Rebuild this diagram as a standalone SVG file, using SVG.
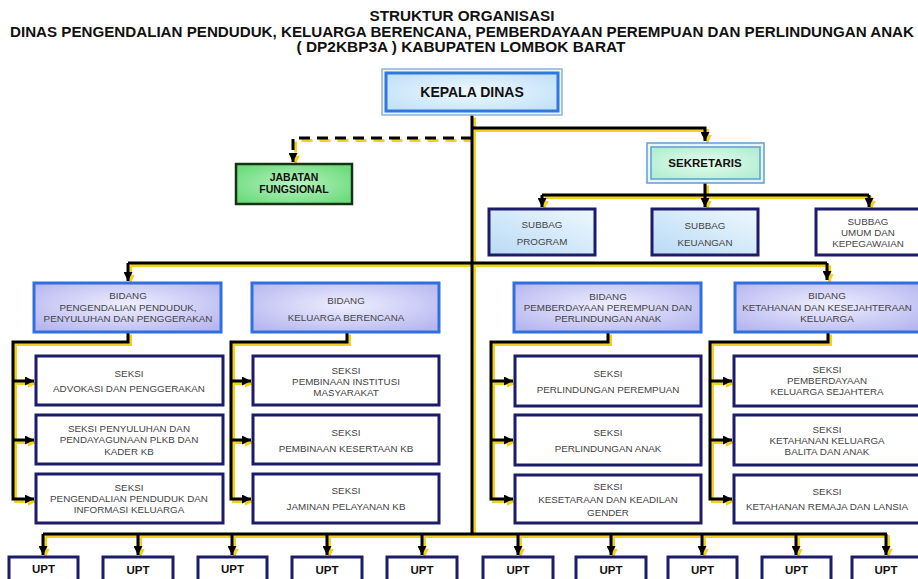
<svg xmlns="http://www.w3.org/2000/svg" width="918" height="579" viewBox="0 0 918 579">
<style>
text{font-family:"Liberation Sans",Arial,sans-serif;text-anchor:middle}
.ttl{font-size:14.5px;font-weight:bold;fill:#111}
.t{font-size:9.8px;fill:#444}
.tb{font-weight:bold;fill:#111}
.sh{fill:none;stroke:#f2d21b;stroke-width:3}
.ln{fill:none;stroke:#000;stroke-width:3}
.sh.a{marker-end:url(#ay)}
.ln.a{marker-end:url(#ab)}
.dash{stroke-dasharray:11 7}
.seksi{fill:#fff;stroke:#1c1c6a;stroke-width:3}
.upt{fill:#fff;stroke:#1c1c6a;stroke-width:3}
.bidang{fill:url(#gBid);stroke:#2f6fe0;stroke-width:3}
.subbag{fill:url(#gSub);stroke:#1c1c6a;stroke-width:3}
</style>
<defs>
<marker id="ab" markerUnits="userSpaceOnUse" markerWidth="9" markerHeight="9" refX="9" refY="4.5" orient="auto"><path d="M0,0 L9,4.5 L0,9 z" fill="#000"/></marker>
<marker id="ay" markerUnits="userSpaceOnUse" markerWidth="9" markerHeight="9" refX="9" refY="4.5" orient="auto"><path d="M0,0 L9,4.5 L0,9 z" fill="#f2d21b"/></marker>
<radialGradient id="gBid" cx="50%" cy="45%" r="65%"><stop offset="0" stop-color="#eeeeff"/><stop offset="1" stop-color="#b7b7f0"/></radialGradient>
<linearGradient id="gSub" x1="0" y1="1" x2="1" y2="0"><stop offset="0" stop-color="#b9daf4"/><stop offset="1" stop-color="#eef8fe"/></linearGradient>
<radialGradient id="gKep" cx="50%" cy="50%" r="60%"><stop offset="0" stop-color="#eef8ff"/><stop offset="1" stop-color="#c4e2f8"/></radialGradient>
<radialGradient id="gJab" cx="50%" cy="50%" r="60%"><stop offset="0" stop-color="#b8f3bf"/><stop offset="1" stop-color="#6edb7e"/></radialGradient>
<radialGradient id="gSek" cx="50%" cy="50%" r="60%"><stop offset="0" stop-color="#e6fcee"/><stop offset="1" stop-color="#b4eed2"/></radialGradient>
</defs>
<rect width="918" height="579" fill="#fff"/>

<g id="title">
<text class="ttl" x="462" y="21" textLength="185" lengthAdjust="spacingAndGlyphs">STRUKTUR ORGANISASI</text>
<text class="ttl" x="462" y="37" textLength="904" lengthAdjust="spacingAndGlyphs">DINAS PENGENDALIAN PENDUDUK, KELUARGA BERENCANA, PEMBERDAYAAN PEREMPUAN DAN PERLINDUNGAN ANAK</text>
<text class="ttl" x="461" y="52" textLength="329" lengthAdjust="spacingAndGlyphs">( DP2KBP3A ) KABUPATEN LOMBOK BARAT</text>
</g>

<g id="connectors">
<g transform="translate(2.5,2.5)">
<path class="sh" d="M472,115 V534"/>
<path class="sh a" d="M472,128 H705 V141"/>
<path class="sh a dash" d="M472,138 H293 V162"/>
<path class="sh" d="M705,183 V195 M542,195 H869"/>
<path class="sh a" d="M542,195 V207"/><path class="sh a" d="M705,195 V207"/><path class="sh a" d="M869,195 V207"/>
<path class="sh" d="M128,263 H827"/>
<path class="sh a" d="M128,263 V281"/><path class="sh a" d="M827,263 V280"/>
<path class="sh a" d="M128,332 V342 H13 V499 H34"/><path class="sh a" d="M13,381 H34"/><path class="sh a" d="M13,440 H34"/>
<path class="sh a" d="M347,332 V342 H231 V499 H251"/><path class="sh a" d="M231,381 H251"/><path class="sh a" d="M231,440 H251"/>
<path class="sh a" d="M608,332 V342 H491 V499 H513"/><path class="sh a" d="M491,381 H513"/><path class="sh a" d="M491,440 H513"/>
<path class="sh a" d="M828,332 V342 H710 V499 H732"/><path class="sh a" d="M710,381 H732"/><path class="sh a" d="M710,440 H732"/>
<path class="sh" d="M43,534 H887"/>
<path class="sh a" d="M43,534 V555"/><path class="sh a" d="M138,534 V555"/><path class="sh a" d="M232,534 V555"/><path class="sh a" d="M327,534 V555"/><path class="sh a" d="M422,534 V555"/>
<path class="sh a" d="M518,534 V555"/><path class="sh a" d="M611,534 V555"/><path class="sh a" d="M702,534 V555"/><path class="sh a" d="M796,534 V555"/><path class="sh a" d="M886,534 V555"/>
</g>
<g>
<path class="ln" d="M472,115 V534"/>
<path class="ln a" d="M472,128 H705 V141"/>
<path class="ln a dash" d="M472,138 H293 V162"/>
<path class="ln" d="M705,183 V195 M542,195 H869"/>
<path class="ln a" d="M542,195 V207"/><path class="ln a" d="M705,195 V207"/><path class="ln a" d="M869,195 V207"/>
<path class="ln" d="M128,263 H827"/>
<path class="ln a" d="M128,263 V281"/><path class="ln a" d="M827,263 V280"/>
<path class="ln a" d="M128,332 V342 H13 V499 H34"/><path class="ln a" d="M13,381 H34"/><path class="ln a" d="M13,440 H34"/>
<path class="ln a" d="M347,332 V342 H231 V499 H251"/><path class="ln a" d="M231,381 H251"/><path class="ln a" d="M231,440 H251"/>
<path class="ln a" d="M608,332 V342 H491 V499 H513"/><path class="ln a" d="M491,381 H513"/><path class="ln a" d="M491,440 H513"/>
<path class="ln a" d="M828,332 V342 H710 V499 H732"/><path class="ln a" d="M710,381 H732"/><path class="ln a" d="M710,440 H732"/>
<path class="ln" d="M43,534 H887"/>
<path class="ln a" d="M43,534 V555"/><path class="ln a" d="M138,534 V555"/><path class="ln a" d="M232,534 V555"/><path class="ln a" d="M327,534 V555"/><path class="ln a" d="M422,534 V555"/>
<path class="ln a" d="M518,534 V555"/><path class="ln a" d="M611,534 V555"/><path class="ln a" d="M702,534 V555"/><path class="ln a" d="M796,534 V555"/><path class="ln a" d="M886,534 V555"/>
</g>
</g>

<g id="kepala-dinas">
<rect x="382" y="69" width="180" height="46" fill="#eaf4fb" stroke="#8fb3d9" stroke-width="1.5"/>
<rect x="386" y="73" width="172" height="38" fill="url(#gKep)" stroke="#2f78dc" stroke-width="3"/>
<text class="tb" x="472" y="97" font-size="14">KEPALA DINAS</text>
</g>

<g id="jabatan-fungsional">
<rect x="236" y="164" width="116" height="40" fill="url(#gJab)" stroke="#143414" stroke-width="2.5"/>
<text class="tb" x="294" y="181" font-size="10.5">JABATAN</text>
<text class="tb" x="294" y="193" font-size="10.5">FUNGSIONAL</text>
</g>

<g id="sekretaris">
<rect x="647" y="143" width="117" height="40" fill="#e6f6f6" stroke="#5f9fd2" stroke-width="1.5"/>
<rect x="651" y="147" width="109" height="32" fill="url(#gSek)" stroke="#5f9fd2" stroke-width="1.5"/>
<text class="tb" x="705" y="167" font-size="11.5">SEKRETARIS</text>
</g>

<g id="subbag-program">
<rect class="subbag" x="489" y="209" width="106" height="46"/>
<text class="t" x="542" y="228">SUBBAG</text>
<text class="t" x="542" y="245">PROGRAM</text>
</g>
<g id="subbag-keuangan">
<rect class="subbag" x="652" y="209" width="106" height="46"/>
<text class="t" x="705" y="229">SUBBAG</text>
<text class="t" x="705" y="246">KEUANGAN</text>
</g>
<g id="subbag-umum">
<rect class="seksi" x="816" y="209" width="106" height="46"/>
<text class="t" x="868" y="225">SUBBAG</text>
<text class="t" x="868" y="236">UMUM DAN</text>
<text class="t" x="868" y="247">KEPEGAWAIAN</text>
</g>

<g id="bidang-1">
<rect class="bidang" x="34" y="283" width="187" height="49"/>
<text class="t" x="128" y="299">BIDANG</text>
<text class="t" x="128" y="311">PENGENDALIAN PENDUDUK,</text>
<text class="t" x="128" y="322">PENYULUHAN DAN PENGGERAKAN</text>
</g>
<g id="bidang-2">
<rect class="bidang" x="252" y="283" width="187" height="49"/>
<text class="t" x="346" y="304">BIDANG</text>
<text class="t" x="346" y="321">KELUARGA BERENCANA</text>
</g>
<g id="bidang-3">
<rect class="bidang" x="514" y="283" width="187" height="49"/>
<text class="t" x="608" y="300">BIDANG</text>
<text class="t" x="608" y="311">PEMBERDAYAAN PEREMPUAN DAN</text>
<text class="t" x="608" y="322">PERLINDUNGAN ANAK</text>
</g>
<g id="bidang-4">
<rect class="bidang" x="735" y="283" width="186" height="49"/>
<text class="t" x="827" y="299">BIDANG</text>
<text class="t" x="827" y="311">KETAHANAN DAN KESEJAHTERAAN</text>
<text class="t" x="827" y="322">KELUARGA</text>
</g>

<g id="seksi-1-1"><rect class="seksi" x="36" y="356" width="187" height="49"/>
<text class="t" x="129" y="377">SEKSI</text><text class="t" x="129" y="392">ADVOKASI DAN PENGGERAKAN</text></g>
<g id="seksi-1-2"><rect class="seksi" x="36" y="415" width="187" height="49"/>
<text class="t" x="129" y="432">SEKSI PENYULUHAN DAN</text><text class="t" x="129" y="443">PENDAYAGUNAAN PLKB DAN</text><text class="t" x="129" y="455">KADER KB</text></g>
<g id="seksi-1-3"><rect class="seksi" x="36" y="474" width="187" height="49"/>
<text class="t" x="129" y="491">SEKSI</text><text class="t" x="129" y="502">PENGENDALIAN PENDUDUK DAN</text><text class="t" x="129" y="513">INFORMASI KELUARGA</text></g>

<g id="seksi-2-1"><rect class="seksi" x="253" y="356" width="186" height="49"/>
<text class="t" x="346" y="374">SEKSI</text><text class="t" x="346" y="385">PEMBINAAN INSTITUSI</text><text class="t" x="346" y="396">MASYARAKAT</text></g>
<g id="seksi-2-2"><rect class="seksi" x="253" y="415" width="186" height="49"/>
<text class="t" x="346" y="436">SEKSI</text><text class="t" x="346" y="452">PEMBINAAN KESERTAAN KB</text></g>
<g id="seksi-2-3"><rect class="seksi" x="253" y="474" width="186" height="49"/>
<text class="t" x="346" y="494">SEKSI</text><text class="t" x="346" y="510">JAMINAN PELAYANAN KB</text></g>

<g id="seksi-3-1"><rect class="seksi" x="515" y="356" width="186" height="50"/>
<text class="t" x="608" y="377">SEKSI</text><text class="t" x="608" y="393">PERLINDUNGAN PEREMPUAN</text></g>
<g id="seksi-3-2"><rect class="seksi" x="515" y="415" width="186" height="50"/>
<text class="t" x="608" y="436">SEKSI</text><text class="t" x="608" y="452">PERLINDUNGAN ANAK</text></g>
<g id="seksi-3-3"><rect class="seksi" x="515" y="475" width="186" height="48"/>
<text class="t" x="608" y="490">SEKSI</text><text class="t" x="608" y="503">KESETARAAN DAN KEADILAN</text><text class="t" x="608" y="516">GENDER</text></g>

<g id="seksi-4-1"><rect class="seksi" x="734" y="356" width="187" height="50"/>
<text class="t" x="827" y="373">SEKSI</text><text class="t" x="827" y="384">PEMBERDAYAAN</text><text class="t" x="827" y="395">KELUARGA SEJAHTERA</text></g>
<g id="seksi-4-2"><rect class="seksi" x="734" y="415" width="187" height="50"/>
<text class="t" x="827" y="433">SEKSI</text><text class="t" x="827" y="444">KETAHANAN KELUARGA</text><text class="t" x="827" y="455">BALITA DAN ANAK</text></g>
<g id="seksi-4-3"><rect class="seksi" x="734" y="475" width="187" height="48"/>
<text class="t" x="827" y="495">SEKSI</text><text class="t" x="827" y="510">KETAHANAN REMAJA DAN LANSIA</text></g>

<g id="upt-1"><rect class="upt" x="9" y="557" width="69" height="28"/><text class="tb" x="43.5" y="573" font-size="11.5">UPT</text></g>
<g id="upt-2"><rect class="upt" x="103" y="557" width="70" height="28"/><text class="tb" x="138" y="574" font-size="11.5">UPT</text></g>
<g id="upt-3"><rect class="upt" x="198" y="557" width="69" height="28"/><text class="tb" x="232.5" y="573" font-size="11.5">UPT</text></g>
<g id="upt-4"><rect class="upt" x="292" y="557" width="70" height="28"/><text class="tb" x="327" y="574" font-size="11.5">UPT</text></g>
<g id="upt-5"><rect class="upt" x="387" y="557" width="70" height="28"/><text class="tb" x="422" y="574" font-size="11.5">UPT</text></g>
<g id="upt-6"><rect class="upt" x="483" y="557" width="70" height="28"/><text class="tb" x="518" y="574" font-size="11.5">UPT</text></g>
<g id="upt-7"><rect class="upt" x="576" y="557" width="70" height="28"/><text class="tb" x="611" y="574" font-size="11.5">UPT</text></g>
<g id="upt-8"><rect class="upt" x="668" y="557" width="69" height="28"/><text class="tb" x="702.5" y="574" font-size="11.5">UPT</text></g>
<g id="upt-9"><rect class="upt" x="762" y="557" width="69" height="28"/><text class="tb" x="796.5" y="574" font-size="11.5">UPT</text></g>
<g id="upt-10"><rect class="upt" x="852" y="557" width="70" height="28"/><text class="tb" x="886" y="574" font-size="11.5">UPT</text></g>
</svg>
